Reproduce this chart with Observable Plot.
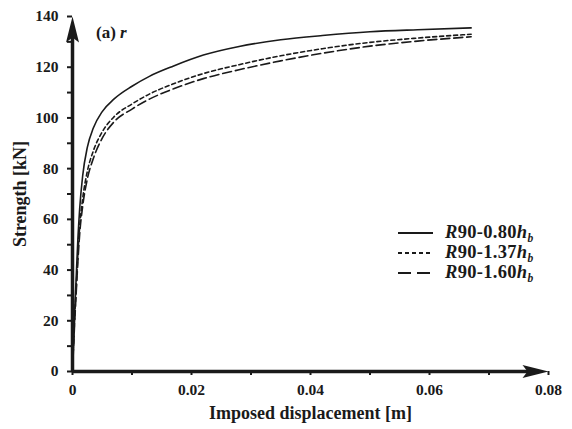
<!DOCTYPE html>
<html>
<head>
<meta charset="utf-8">
<script src="https://cdn.jsdelivr.net/npm/d3@7"></script>
<script src="https://cdn.jsdelivr.net/npm/@observablehq/plot@0.6"></script>
<style>
  body { margin: 0; background: #fff; }
  #wrap { position: relative; width: 572px; height: 429px; font-family: "Liberation Serif", "Times New Roman", serif; font-weight: bold; color: #1a1a1a; }
  #wrap svg { display: block; }
  .ov { position: absolute; white-space: nowrap; font-family: "Liberation Serif", serif; font-weight: bold; }
  .leg { position: absolute; left: 398px; font-size: 18.5px; letter-spacing: 0.3px; font-family: "Liberation Serif", serif; font-weight: bold; }
  .leg div { height: 20px; display: flex; align-items: center; }
  .leg svg { margin-right: 12px; }
  i { font-style: italic; }
  sub { font-size: 11.5px; font-style: italic; vertical-align: -4px; }
</style>
</head>
<body>
<div id="wrap"></div>
<script>
// ---- data ----
const displacement = [0, 0.0003, 0.0006, 0.0009, 0.0012, 0.0017, 0.0025, 0.0035, 0.005, 0.007, 0.01, 0.013, 0.017, 0.022, 0.028, 0.035, 0.042, 0.05, 0.058, 0.067];
const strength080 = [0, 20, 36, 52, 64, 77, 88.5, 96, 102.5, 107.5, 112.5, 116.5, 120.5, 124.8, 128.2, 130.8, 132.5, 134, 134.8, 135.5];
const strength137 = [0, 18, 32, 46, 57, 68, 79, 87, 94.5, 100.5, 105.5, 109.5, 113.5, 117.5, 121, 124.5, 127.3, 129.8, 131.5, 133];
const strength160 = [0, 16, 30, 43, 54, 65, 76, 84, 92, 98.5, 103.5, 107.5, 111.5, 115.5, 119, 122.5, 125.5, 128.3, 130.3, 132];
const seriesNames = ["R90-0.80hb", "R90-1.37hb", "R90-1.60hb"];
const xDomain = [0, 0.08];
const yDomain = [0, 140];
const xTickLabels = [0, 0.02, 0.04, 0.06, 0.08];
const yTickLabels = [0, 20, 40, 60, 80, 100, 120, 140];
const xMinorTicks = d3.range(0, 0.0801, 0.01);
const yMinorTicks = d3.range(0, 141, 10);

const dashes = [null, "4,3", "9,4"];
const seriesValues = [strength080, strength137, strength160];
const rows = [];
seriesValues.forEach((vals, s) => vals.forEach((v, i) => rows.push({series: seriesNames[s], d: displacement[i], s: v})));

const ink = "#1a1a1a";
const font = "Liberation Serif";

// filled arrowhead, tip at origin, pointing up
const arrowHead = {
  draw(ctx) {
    ctx.moveTo(0, 0);
    ctx.lineTo(6.5, 26);
    ctx.lineTo(0, 21);
    ctx.lineTo(-6.5, 26);
    ctx.closePath();
  }
};
const heads = [
  {x: xDomain[0], y: yDomain[1], rot: 0},
  {x: xDomain[1], y: yDomain[0], rot: 90}
];

const marks = [
  Plot.axisY({ticks: yMinorTicks, tickSize: 5, tickFormat: () => "", stroke: ink, strokeWidth: 2, label: null}),
  Plot.axisY({ticks: yTickLabels, tickSize: 0, tickPadding: 14, fontSize: 15.5, fontWeight: "bold", fontFamily: font, fill: ink,
    label: "Strength [kN]", labelAnchor: "center", labelArrow: "none", labelOffset: 59}),
  Plot.axisX({ticks: xMinorTicks, tickSize: 4, tickFormat: () => "", stroke: ink, strokeWidth: 2, label: null}),
  Plot.axisX({ticks: xTickLabels, tickSize: 0, tickPadding: 12, fontSize: 15.5, fontWeight: "bold", fontFamily: font, fill: ink,
    tickFormat: d => d === 0 ? "0" : String(d),
    label: "Imposed displacement [m]", labelAnchor: "center", labelArrow: "none", labelOffset: 47}),
  ...seriesNames.map((name, i) => Plot.line(rows.filter(r => r.series === name), {
    x: "d", y: "s", stroke: ink, strokeWidth: 1.6, strokeDasharray: dashes[i], curve: "monotone-x"
  })),
  Plot.ruleX([xDomain[0]], {y1: yDomain[0], y2: yDomain[1] - 6, stroke: ink, strokeWidth: 3.5}),
  Plot.ruleY([yDomain[0]], {x1: xDomain[0], x2: xDomain[1] - 0.003, stroke: ink, strokeWidth: 3.5}),
  Plot.dot(heads, {x: "x", y: "y", rotate: "rot", symbol: arrowHead, fill: ink, stroke: null, r: 5})
];

const chart = Plot.plot({
  width: 572,
  height: 429,
  marginLeft: 72,
  marginRight: 24,
  marginTop: 16,
  marginBottom: 58,
  x: {domain: xDomain},
  y: {domain: yDomain},
  style: {fontFamily: font, fontWeight: "bold", fontSize: "18px", color: ink, background: "#fff"},
  marks
});
chart.style.fontFamily = font;
d3.select(chart).selectAll("text").attr("font-family", font).style("font-family", font).attr("font-weight", "bold");
d3.select(chart).selectAll("[aria-label='x-axis label'] text, [aria-label='y-axis label'] text").style("font-size", "18px");

const wrap = document.getElementById("wrap");
wrap.appendChild(chart);

// panel label
const tag = document.createElement("div");
tag.className = "ov";
tag.style.left = "96px";
tag.style.top = "23px";
tag.style.fontSize = "17px";
tag.innerHTML = "(a) <i>r</i>";
wrap.appendChild(tag);

// legend
const leg = document.createElement("div");
leg.className = "leg";
leg.style.top = "223px";
const legDash = [null, "4,3", "13,6"];
seriesNames.forEach((name, i) => {
  const row = document.createElement("div");
  const ns = "http://www.w3.org/2000/svg";
  const s = document.createElementNS(ns, "svg");
  s.setAttribute("width", "35"); s.setAttribute("height", "6");
  const l = document.createElementNS(ns, "line");
  l.setAttribute("x1", "0"); l.setAttribute("x2", "35"); l.setAttribute("y1", "3"); l.setAttribute("y2", "3");
  l.setAttribute("stroke", ink); l.setAttribute("stroke-width", "1.8");
  if (legDash[i]) l.setAttribute("stroke-dasharray", legDash[i]);
  s.appendChild(l);
  row.appendChild(s);
  const t = document.createElement("span");
  const m = name.match(/^R(.*)h(b)$/);
  t.innerHTML = "<i>R</i>" + m[1] + "<i>h</i><sub>" + m[2] + "</sub>";
  row.appendChild(t);
  leg.appendChild(row);
});
wrap.appendChild(leg);
</script>
</body>
</html>
